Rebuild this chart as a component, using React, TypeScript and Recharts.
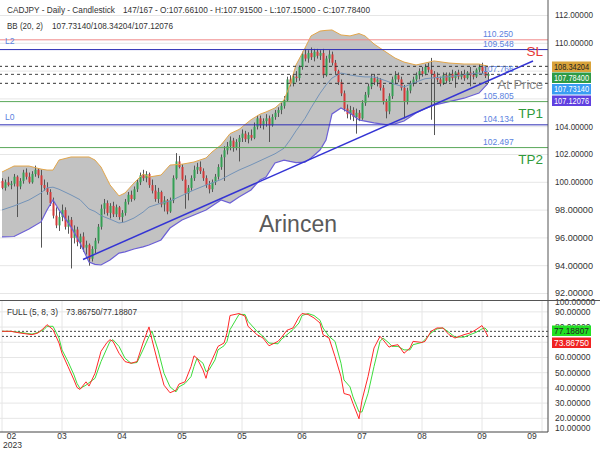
import React from "react";
import { ComposedChart, Bar, Line, Area, XAxis, YAxis, CartesianGrid, ReferenceLine } from "recharts";

const FONT = "'Liberation Sans', Arial, sans-serif";

// x axis: one slot per trading day, month ticks every 20 days
const monthIdx = [0, 20, 40, 60, 80, 100, 120, 140, 160, 180];
const monthLabels = ["02", "03", "04", "05", "05", "06", "07", "08", "09", "09"];
const priceTicks = [92, 94, 96, 98, 100, 102, 104, 106, 108, 110, 112];
// 106 and 108 sit behind the value boxes in the original, so no label
const priceLabelTicks = [92, 94, 96, 98, 100, 102, 104, 110, 112];
const stochLabelTicks = [10, 20, 30, 40, 50, 60, 80, 90, 100];
const stochGrid = [20, 30, 40, 50, 60, 70, 80, 90];

const opens = [
  100.1, 99.6, 100.0, 99.8, 99.9, 100.4, 99.7, 100.1, 100.7, 100.4,
  100.0, 100.6, 100.9, 100.5, 99.8, 99.6, 99.3, 98.5, 97.6, 96.9,
  97.5, 98.0, 96.8, 97.3, 96.0, 96.6, 95.7, 96.1, 95.3, 95.5,
  94.5, 95.2, 95.8, 96.8, 98.1, 98.5, 97.8, 98.3, 97.7, 98.2,
  97.5, 97.8, 98.6, 99.1, 98.8, 99.5, 100.0, 100.5, 100.3, 100.6,
  99.8, 99.4, 98.8, 99.3, 98.4, 98.7, 97.9, 98.7, 100.3, 101.5,
  101.1, 100.2, 99.2, 99.6, 100.3, 100.9, 101.1, 100.8, 100.3, 99.8,
  99.5, 100.0, 100.4, 101.1, 101.8, 102.3, 102.6, 103.0, 102.5, 102.9,
  103.2, 103.5, 103.1, 103.4, 103.2, 104.0, 104.6, 104.1, 104.4, 104.6,
  104.1, 104.7, 105.0, 105.2, 105.5, 105.9, 107.4, 107.1, 107.6, 107.5,
  108.3, 109.2, 108.9, 109.3, 109.0, 109.4, 109.1, 109.3, 107.7, 108.9,
  109.2, 108.6, 108.0, 107.2, 106.4, 105.3, 104.9, 105.2, 104.7, 105.0,
  104.6, 105.7, 106.3, 106.9, 107.5, 107.2, 107.4, 106.8, 105.8, 105.1,
  106.2, 107.4, 107.7, 107.4, 106.8, 105.8, 106.6, 107.1, 107.4, 107.7,
  108.0, 107.8, 108.3, 108.1, 107.8, 107.5, 107.4, 107.1, 107.7, 107.3,
  107.8, 107.5, 107.9, 107.6, 107.8, 107.5, 107.9, 107.7, 107.6, 108.1,
  108.3, 108.0, 107.661,
];
const highs = [
  100.3, 100.2, 100.4, 100.1, 100.6, 100.5, 100.3, 100.9, 101.0, 100.7,
  100.8, 101.2, 101.0, 100.9, 100.2, 100.0, 99.5, 98.9, 98.2, 97.9,
  98.4, 98.2, 97.6, 97.5, 96.9, 96.8, 96.3, 96.4, 95.8, 95.6,
  95.4, 96.0, 97.0, 98.4, 98.8, 98.7, 98.5, 98.6, 98.4, 98.3,
  98.0, 98.8, 99.3, 99.4, 99.7, 100.2, 100.7, 100.9, 100.8, 100.7,
  100.2, 99.8, 99.6, 99.4, 99.0, 98.8, 98.9, 100.5, 102.1, 101.9,
  101.3, 100.5, 99.8, 100.5, 101.2, 101.4, 101.5, 101.0, 100.5, 100.1,
  100.2, 100.6, 101.3, 102.0, 102.6, 102.9, 103.3, 103.2, 103.1, 103.4,
  103.8, 103.7, 103.6, 103.8, 104.3, 104.8, 104.8, 104.6, 104.9, 104.8,
  104.9, 105.2, 105.4, 105.7, 106.2, 107.6, 107.7, 107.8, 108.0, 108.4,
  109.4, 109.6, 109.5, 109.7, 109.6, 109.6, 109.5, 109.6, 109.1, 109.5,
  109.4, 108.8, 108.1, 107.4, 106.6, 105.6, 105.5, 105.4, 105.3, 105.2,
  105.9, 106.5, 107.1, 107.8, 107.8, 107.6, 107.5, 107.0, 106.0, 106.4,
  107.6, 108.0, 107.9, 107.6, 107.0, 106.8, 107.3, 107.6, 107.9, 108.2,
  108.3, 108.5, 108.6, 108.95, 108.0, 107.9, 107.6, 107.9, 107.9, 107.9,
  108.1, 108.0, 108.1, 108.0, 108.1, 108.0, 108.3, 108.0, 108.2, 108.5,
  108.6, 108.4, 107.915,
];
const lows = [
  99.5, 99.4, 99.7, 99.5, 99.7, 97.5, 99.5, 99.9, 100.2, 99.9,
  99.9, 100.4, 100.3, 95.3, 99.4, 99.1, 98.3, 97.4, 96.7, 96.5,
  97.2, 96.6, 96.3, 93.8, 95.6, 95.4, 95.2, 95.0, 94.8, 94.0,
  94.3, 94.9, 95.6, 96.6, 97.7, 97.6, 97.4, 97.5, 97.5, 97.3,
  97.1, 97.6, 98.4, 98.6, 98.7, 99.3, 99.8, 100.1, 100.0, 99.6,
  99.2, 98.6, 98.5, 98.2, 97.9, 97.7, 97.8, 98.5, 100.2, 101.0,
  100.1, 98.1, 98.7, 99.4, 100.1, 100.6, 100.6, 100.1, 99.6, 99.2,
  99.3, 99.8, 100.2, 100.9, 100.1, 102.0, 102.3, 102.2, 102.3, 101.5,
  102.9, 102.9, 102.8, 103.0, 103.1, 103.8, 103.9, 103.8, 104.0, 102.9,
  104.0, 104.5, 104.7, 104.9, 105.3, 105.8, 106.9, 106.9, 107.2, 107.3,
  108.1, 108.7, 108.6, 108.8, 108.7, 108.9, 108.8, 107.5, 107.6, 108.6,
  108.4, 107.8, 107.0, 106.2, 105.1, 104.6, 104.5, 104.4, 103.5, 104.4,
  104.5, 105.5, 106.1, 106.7, 107.0, 106.9, 106.6, 105.6, 104.6, 104.9,
  106.0, 107.1, 107.2, 106.6, 104.6, 105.6, 106.4, 106.9, 107.1, 107.4,
  107.6, 107.7, 107.9, 104.5, 103.4, 107.2, 106.9, 107.0, 107.1, 107.2,
  107.3, 106.8, 107.4, 107.4, 107.3, 107.4, 106.9, 107.4, 107.5, 107.9,
  107.8, 107.5, 107.15,
];
const closes = [
  99.6, 100.0, 99.8, 99.9, 100.4, 99.7, 100.1, 100.7, 100.4, 100.0,
  100.6, 100.9, 100.5, 99.8, 99.6, 99.3, 98.5, 97.6, 96.9, 97.5,
  98.0, 96.8, 97.3, 96.0, 96.6, 95.7, 96.1, 95.3, 95.5, 94.5,
  95.2, 95.8, 96.8, 98.1, 98.5, 97.8, 98.3, 97.7, 98.2, 97.5,
  97.8, 98.6, 99.1, 98.8, 99.5, 100.0, 100.5, 100.3, 100.6, 99.8,
  99.4, 98.8, 99.3, 98.4, 98.7, 97.9, 98.7, 100.3, 101.5, 101.1,
  100.2, 99.2, 99.6, 100.3, 100.9, 101.1, 100.8, 100.3, 99.8, 99.5,
  100.0, 100.4, 101.1, 101.8, 102.3, 102.6, 103.0, 102.5, 102.9, 103.2,
  103.5, 103.1, 103.4, 103.2, 104.0, 104.6, 104.1, 104.4, 104.6, 104.1,
  104.7, 105.0, 105.2, 105.5, 105.9, 107.4, 107.1, 107.6, 107.5, 108.3,
  109.2, 108.9, 109.3, 109.0, 109.4, 109.1, 109.3, 107.7, 108.9, 109.2,
  108.6, 108.0, 107.2, 106.4, 105.3, 104.9, 105.2, 104.7, 105.0, 104.6,
  105.7, 106.3, 106.9, 107.5, 107.2, 107.4, 106.8, 105.8, 105.1, 106.2,
  107.4, 107.7, 107.4, 106.8, 105.8, 106.6, 107.1, 107.4, 107.7, 108.0,
  107.8, 108.3, 108.1, 107.8, 107.5, 107.4, 107.1, 107.7, 107.3, 107.8,
  107.5, 107.9, 107.6, 107.8, 107.5, 107.9, 107.7, 107.6, 108.1, 108.3,
  108.0, 107.66, 107.784,
];

// Bollinger (20, 2) at these candle indices
const bandIdx = [
  0, 4, 9, 13, 15, 17, 19, 23, 26, 29, 31, 33, 36, 39, 41, 44, 47, 49, 53, 56,
  60, 64, 68, 70, 73, 76, 79, 83, 86, 88, 91, 94, 96, 98, 101, 103, 106, 108, 110, 113,
  116, 119, 121, 124, 128, 131, 134, 138, 141, 144, 149, 154, 159, 162,
];
const bbUpper = [
  100.74, 101.17, 101.17, 100.95, 100.88, 100.88, 101.6, 101.82, 101.82, 101.82,
  101.6, 101.1, 99.81, 99.02, 99.23, 99.95, 100.6, 100.38, 100.52, 101.24,
  101.3, 101.46, 101.75, 102.18, 102.68, 103.5, 103.8, 104.5, 104.9, 105.06,
  105.35, 105.92, 107.0, 108.44, 109.66, 110.53, 110.88, 110.93, 110.96, 110.6,
  110.53, 110.7, 110.53, 109.95, 109.37, 108.94, 108.65, 108.44, 108.58, 108.73,
  108.58, 108.51, 108.51, 108.34204,
];
const bbLower = [
  96.07, 96.1, 96.64, 97.15, 98.01, 98.73, 98.01, 96.79, 95.63, 94.27,
  94.1, 94.05, 94.41, 94.91, 95.0, 95.2, 95.35, 95.49, 95.85, 96.71,
  97.29, 97.65, 98.01, 98.3, 98.73, 98.51, 98.94, 99.45, 100.17, 100.38,
  101.39, 101.6, 101.5, 101.42, 101.45, 101.75, 102.32, 103.04, 104.92, 105.35,
  104.99, 104.48, 104.4, 104.27, 104.15, 104.2, 104.41, 104.99, 105.3, 105.55,
  105.8, 106.05, 106.42, 107.12076,
];
const bbMid = [
  98.01, 98.3, 98.73, 99.23, 99.6, 99.65, 99.5, 99.09, 98.75, 98.08,
  97.9, 97.6, 97.35, 97.07, 97.15, 97.43, 97.85, 98.22, 98.5, 98.65,
  99.05, 99.45, 99.8, 99.95, 100.2, 100.55, 100.88, 101.25, 101.55, 101.75,
  102.05, 102.45, 103.04, 103.7, 104.6, 105.35, 106.4, 107.0, 107.5, 107.86,
  107.72, 107.62, 107.58, 107.58, 107.3, 107.05, 106.86, 107.22, 107.45, 107.52,
  107.6, 107.75, 107.86, 107.7314,
];

// Full stochastic (5, 8, 3)
const stochIdx = [
  0, 3, 6, 10, 12, 14, 15, 17, 19, 20, 22, 24, 25, 26, 28, 29, 31, 33, 35, 36,
  37, 39, 41, 43, 45, 47, 49, 50, 52, 54, 56, 58, 59, 61, 63, 64, 65, 67, 68, 69,
  71, 72, 74, 75, 76, 79, 81, 82, 85, 87, 89, 92, 93, 95, 97, 99, 100, 102, 104, 106,
  107, 109, 111, 113, 114, 116, 117, 119, 120, 122, 124, 126, 127, 129, 130, 132, 134, 136, 137, 140,
  141, 143, 145, 147, 149, 151, 154, 156, 158, 160, 161, 162,
];
const stochK = [
  77.2, 77.2, 76.1, 75.0, 76.1, 79.4, 81.6, 78.3, 69.5, 62.8, 54.0, 45.2, 40.3, 39.0, 44.0, 41.2, 49.6, 64.0, 69.9, 71.7,
  70.6, 62.8, 57.3, 56.2, 57.3, 69.5, 80.1, 71.7, 56.2, 41.8, 36.8, 38.5, 42.5, 44.0, 54.0, 61.1, 59.5, 51.8, 46.3, 54.0,
  62.8, 67.3, 69.5, 76.1, 87.6, 88.9, 87.2, 80.5, 75.0, 72.8, 67.7, 70.6, 72.8, 77.9, 79.4, 86.7, 88.9, 88.3, 86.0, 82.7,
  75.0, 72.8, 60.6, 47.4, 36.3, 35.2, 29.7, 19.7, 31.9, 47.4, 66.2, 73.9, 71.7, 66.8, 67.7, 68.4, 62.8, 66.2, 70.6, 69.9,
  70.6, 77.2, 79.4, 79.4, 75.0, 72.8, 75.0, 76.1, 78.3, 81.0, 77.5, 73.8675,
];
const stochD = [
  77.2, 77.2, 76.5, 75.4, 76.5, 78.3, 80.5, 80.5, 72.8, 65.0, 57.3, 48.5, 43.0, 39.6, 41.8, 43.4, 46.3, 57.3, 66.2, 70.6,
  71.7, 67.3, 59.5, 56.2, 56.7, 65.0, 73.9, 77.2, 65.0, 49.6, 40.7, 37.4, 40.7, 42.9, 47.4, 54.0, 59.5, 56.2, 50.7, 51.8,
  58.4, 65.0, 67.7, 70.6, 78.3, 88.3, 88.3, 83.8, 77.2, 73.9, 69.5, 69.0, 71.7, 75.0, 78.3, 82.7, 87.6, 88.9, 87.6, 84.5,
  79.4, 73.9, 70.6, 56.2, 45.2, 40.7, 34.1, 24.2, 24.2, 36.3, 54.0, 70.6, 72.8, 69.5, 67.3, 67.3, 65.0, 65.0, 68.4, 69.9,
  71.7, 76.1, 78.8, 79.4, 76.5, 73.4, 73.4, 75.0, 76.5, 78.8, 79.4, 77.18807,
];

// horizontal levels drawn on the price panel
const levelValues = [110.25, 109.548, 107.766, 105.805, 104.134, 102.497];
const levelText = ["110.250", "109.548", "107.766", "105.805", "104.134", "102.497"];
const levelTags = ["", "SL", "At Price", "TP1", "", "TP2"];
const levelSide = ["L2", "", "", "", "L0", ""];
const bbNow = [107.7314, 108.34204, 107.12076];
const trendIdx = [27, 177];
const trendPrice = [94.45, 108.73];

const levelStroke = ["#f08a8a", "#2d2db5", "#444", "#5aa85a", "#2d2db5", "#5aa85a"];
const tagColor: Record<string, string> = { SL: "#e53935", "At Price": "#8a8a8a", TP1: "#2f9a3a", TP2: "#2f9a3a" };
const tagOffset: Record<string, number> = { SL: 6.5, "At Price": 14.3, TP1: 16.5, TP2: 16.5 };

const rows: any[] = opens.map((o, i) => ({
  i, open: o, high: highs[i], low: lows[i], close: closes[i],
  bbU: null, bbL: null, bbM: null, k: null, d: null,
}));
bandIdx.forEach((ix, j) => {
  rows[ix].bbU = bbUpper[j];
  rows[ix].bbL = bbLower[j];
  rows[ix].bbM = bbMid[j];
});
stochIdx.forEach((ix, j) => {
  rows[ix].k = stochK[j];
  rows[ix].d = stochD[j];
});

const X_DOMAIN: [number, number] = [-2 / 3, 182];
// the lower panel's svg starts 4px above its plot so its top label is not clipped
const STOCH_TOP = 4;

function Candle(props: any) {
  const { x, y, width, height, payload } = props;
  if (!payload || payload.high == null) return null;
  const { open, close, high, low } = payload;
  const top = Math.min(y, y + height);
  const h = Math.abs(height);
  const k = h / (high - low || 1);
  const yOf = (v: number) => top + (high - v) * k;
  const cx = Math.round(x + width / 2);
  const up = close >= open;
  const bTop = yOf(Math.max(open, close));
  const bH = Math.max(1, Math.abs(yOf(open) - yOf(close)));
  return (
    <g>
      <line x1={cx + 0.5} x2={cx + 0.5} y1={top} y2={top + h} stroke="#555" strokeWidth={1} />
      <rect x={cx - 0.5} y={bTop} width={2} height={bH} fill={up ? "#35a055" : "#d33a3a"} />
    </g>
  );
}

function PriceTick({ y, payload }: any) {
  return (
    <text x={555} y={y + 3} fontSize={8.5} fill="#333" fontFamily={FONT} textLength={38} lengthAdjust="spacingAndGlyphs">
      {Number(payload.value).toFixed(5)}
    </text>
  );
}

function StochTick({ y, payload }: any) {
  const cy = Math.min(Math.max(y, STOCH_TOP + 2.2), STOCH_TOP + 128);
  return (
    <text x={555} y={cy + 3} fontSize={8.5} fill="#333" fontFamily={FONT}>
      {Number(payload.value).toFixed(5)}
    </text>
  );
}

function MonthTick({ x, payload }: any) {
  const n = monthIdx.indexOf(payload.value);
  const cx = Math.min(Math.max(x, 11.5), 532);
  return (
    <g fontFamily={FONT} fontSize={8.5} fill="#333">
      <text x={cx} y={STOCH_TOP + 139} textAnchor="middle">{monthLabels[n]}</text>
      {n === 0 && <text x={3} y={STOCH_TOP + 147.5}>2023</text>}
    </g>
  );
}

function levelLabel(n: number) {
  return (props: any) => {
    const vb = props.viewBox || {};
    const ly = vb.y;
    const right = vb.x + vb.width;
    const tag = levelTags[n];
    const side = levelSide[n];
    return (
      <g fontFamily={FONT}>
        <text x={right - 65} y={ly - 2.5} fontSize={8.5} fill="#5b82e0">{levelText[n]}</text>
        {tag && (
          <text x={right - 5} y={ly + tagOffset[tag]} fontSize={tag === "At Price" ? 13 : 13.5} textAnchor="end" fill={tagColor[tag]}>{tag}</text>
        )}
        {side && (
          <text x={5} y={n === 0 ? ly + 4.3 : ly - 4.8} fontSize={8.5} fill="#5b82e0">{side}</text>
        )}
      </g>
    );
  };
}

const valueBoxes = [
  { text: "108.34204", y: 61.5, bg: "#d9a33a", fg: "#222" },
  { text: "107.78400", y: 72.5, bg: "#2e9b46", fg: "#fff" },
  { text: "107.73140", y: 84, bg: "#3a9cf2", fg: "#fff" },
  { text: "107.12076", y: 95.5, bg: "#6040e0", fg: "#fff" },
  { text: "77.18807", y: 325.5, bg: "#22e022", fg: "#222" },
  { text: "73.86750", y: 337.5, bg: "#f02222", fg: "#fff" },
];

export default function App() {
  return (
    <div style={{ position: "relative", width: 600, height: 450, background: "#fff" }}>
      <style>{"body{margin:0}"}</style>
      <ComposedChart width={600} height={300} data={rows} margin={{ top: 0, right: 0, bottom: 0, left: 0 }}>
        <CartesianGrid stroke="#e6e6e6" horizontalValues={priceTicks} verticalValues={monthIdx} />
        <XAxis dataKey="i" type="number" domain={X_DOMAIN} allowDataOverflow ticks={monthIdx} height={0} tick={false} axisLine={false} tickLine={false} />
        <YAxis orientation="right" width={52} domain={[91.532, 113.115]} allowDataOverflow ticks={priceLabelTicks} interval={0} tick={<PriceTick />} tickLine={false} axisLine={{ stroke: "#555" }} />
        <Area dataKey={(r: any) => (r.bbU == null ? null : [r.bbL, r.bbU])} connectNulls fill="#c2c2c2" fillOpacity={1} stroke="none" dot={false} activeDot={false} isAnimationActive={false} />
        <Line dataKey="bbM" connectNulls stroke="#7393b8" strokeWidth={1} dot={false} activeDot={false} isAnimationActive={false} />
        <Line dataKey="bbU" connectNulls stroke="#e3a64a" strokeWidth={1} dot={false} activeDot={false} isAnimationActive={false} />
        <Line dataKey="bbL" connectNulls stroke="#6b5fd6" strokeWidth={1.2} dot={false} activeDot={false} isAnimationActive={false} />
        <ReferenceLine y={bbNow[1]} stroke="#333" strokeDasharray="3 3" />
        <ReferenceLine y={bbNow[2]} stroke="#333" strokeDasharray="3 3" />
        {levelValues.map((v, n) => (
          <ReferenceLine
            key={n}
            y={v}
            stroke={levelStroke[n]}
            strokeWidth={1}
            strokeDasharray={n === 2 ? "3 3" : undefined}
            label={levelLabel(n)}
          />
        ))}
        <Bar dataKey={(r: any) => [r.low, r.high]} barSize={3} shape={<Candle />} isAnimationActive={false} />
        <ReferenceLine
          segment={[{ x: trendIdx[0], y: trendPrice[0] }, { x: trendIdx[1], y: trendPrice[1] }]}
          stroke="#3434d4"
          strokeWidth={1.5}
        />
      </ComposedChart>
      <div style={{ position: "relative", marginTop: -STOCH_TOP }}>
        <ComposedChart width={600} height={150 + STOCH_TOP} data={rows} margin={{ top: STOCH_TOP, right: 0, bottom: 0, left: 0 }}>
          <CartesianGrid stroke="#e6e6e6" horizontalValues={stochGrid} verticalValues={monthIdx} />
          <XAxis dataKey="i" type="number" domain={X_DOMAIN} allowDataOverflow ticks={monthIdx} interval={0} height={18} tick={<MonthTick />} tickLine={false} axisLine={{ stroke: "#444" }} />
          <YAxis orientation="right" width={52} domain={[11, 97.8]} allowDataOverflow ticks={stochLabelTicks} interval={0} tick={<StochTick />} tickLine={false} axisLine={{ stroke: "#444" }} />
          <ReferenceLine y={stochD[stochD.length - 1]} stroke="#444" strokeDasharray="2 2" />
          <ReferenceLine y={stochK[stochK.length - 1]} stroke="#444" strokeDasharray="2 2" />
          <Line dataKey="d" connectNulls stroke="#3ddc3d" strokeWidth={1} dot={false} activeDot={false} isAnimationActive={false} />
          <Line dataKey="k" connectNulls stroke="#ff2a2a" strokeWidth={1} dot={false} activeDot={false} isAnimationActive={false} />
        </ComposedChart>
      </div>
      <svg width={600} height={450} style={{ position: "absolute", left: 0, top: 0, pointerEvents: "none" }} fontFamily={FONT}>
        <line x1={0} x2={600} y1={300.5} y2={300.5} stroke="#555" />
        <text x={7} y={13} fontSize={8.5} fill="#333" textLength={108} lengthAdjust="spacingAndGlyphs">CADJPY - Daily - Candlestick</text>
        <text x={123} y={13} fontSize={8.5} fill="#333" textLength={247} lengthAdjust="spacingAndGlyphs">147/167 - O:107.66100 - H:107.91500 - L:107.15000 - C:107.78400</text>
        <text x={7} y={28.5} fontSize={8.5} fill="#333" textLength={36} lengthAdjust="spacingAndGlyphs">BB (20, 2)</text>
        <text x={52} y={28.5} fontSize={8.5} fill="#333" textLength={121} lengthAdjust="spacingAndGlyphs">107.73140/108.34204/107.12076</text>
        <text x={7} y={315} fontSize={8.5} fill="#333" textLength={51} lengthAdjust="spacingAndGlyphs">FULL (5, 8, 3)</text>
        <text x={66} y={315} fontSize={8.5} fill="#333" textLength={71} lengthAdjust="spacingAndGlyphs">73.86750/77.18807</text>
        <text x={259} y={232} fontSize={23} fill="#5a5a5a">Arincen</text>
        {valueBoxes.map((b) => (
          <g key={b.text}>
            <rect x={552} y={b.y} width={39} height={10.5} fill={b.bg} />
            <text x={554} y={b.y + 8.3} fontSize={8.5} fill={b.fg} textLength={35} lengthAdjust="spacingAndGlyphs">{b.text}</text>
          </g>
        ))}
      </svg>
    </div>
  );
}
